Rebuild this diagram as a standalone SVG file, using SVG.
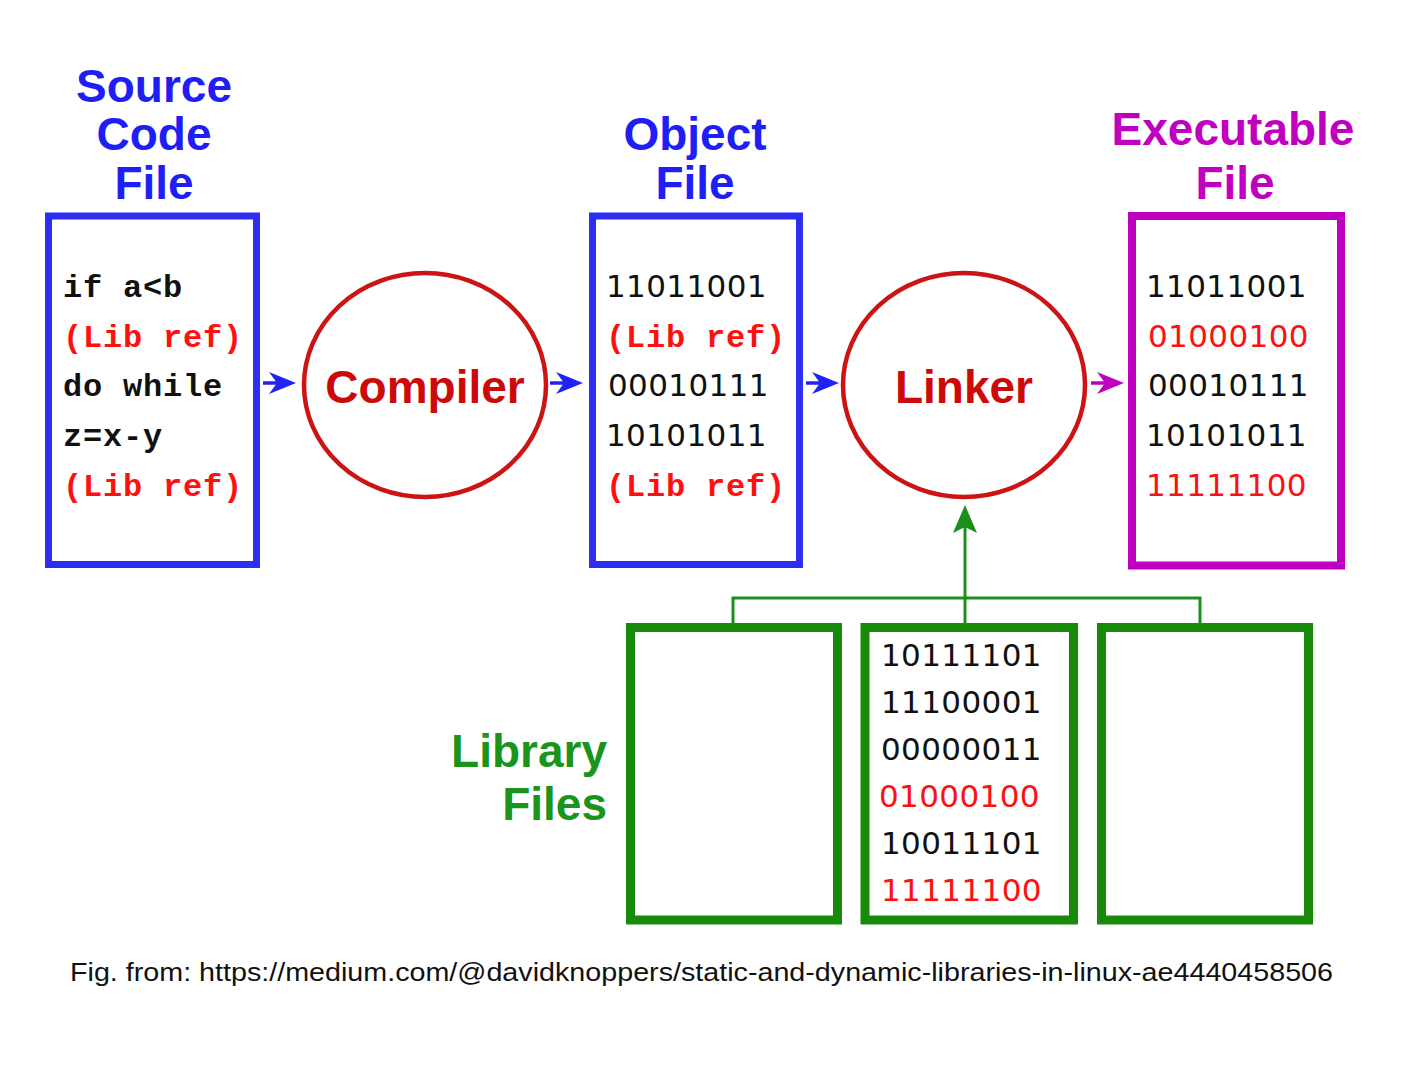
<svg xmlns="http://www.w3.org/2000/svg" xmlns:xlink="http://www.w3.org/1999/xlink" width="1408" height="1088" viewBox="0 0 1408 1088">
<style>
.title{font-family:"Liberation Sans",Arial,sans-serif;font-weight:bold;font-size:46px;text-anchor:middle}
.blue{fill:#1f1ff5}
.mag{fill:#c000c0}
.grn{fill:#1a941a}
.circ{fill:none;stroke:#cc1414;stroke-width:4.5}
.ctext{font-family:"Liberation Sans",Arial,sans-serif;font-weight:bold;font-size:46px;fill:#cc0a0a;text-anchor:middle}
.code{font-family:"Liberation Mono","Courier New",monospace;font-weight:bold;font-size:32px;letter-spacing:0.8px;fill:#111}
.bin{font-family:"DejaVu Sans",sans-serif;font-size:31px;letter-spacing:0.4px;fill:#111}
.red{fill:#ff1010}
.bbox{fill:#fff;stroke:#2e2ef2;stroke-width:7}
.mbox{fill:#fff;stroke:#c000c0;stroke-width:8}
.gbox{fill:#fff;stroke:#178a0a;stroke-width:9}
.gline{fill:none;stroke:#1a901a;stroke-width:3}
.caption{font-family:"Liberation Sans",Arial,sans-serif;font-size:26px;fill:#111}
</style>
<defs>
<g id="arr">
<line x1="-33" y1="0" x2="-18" y2="0" stroke-width="3.5"/>
<path d="M0,0 L-27,-11 L-19,0 L-27,11 Z" stroke="none"/>
</g>
</defs>
<rect width="1408" height="1088" fill="#fff"/>

<g id="source-file">
<text class="title blue" x="154" y="102">Source</text>
<text class="title blue" x="154" y="150">Code</text>
<text class="title blue" x="154" y="199">File</text>
<rect class="bbox" x="48.5" y="216" width="208" height="348.5"/>
<text class="code" x="63" y="297">if a&lt;b</text>
<text class="code red" x="63" y="347">(Lib ref)</text>
<text class="code" x="63" y="396">do while</text>
<text class="code" x="63" y="446">z=x-y</text>
<text class="code red" x="63" y="496">(Lib ref)</text>
</g>

<g id="compiler">
<ellipse class="circ" cx="425" cy="385" rx="121" ry="112"/>
<text class="ctext" x="425" y="403">Compiler</text>
</g>

<g id="object-file">
<text class="title blue" x="695" y="150">Object</text>
<text class="title blue" x="695" y="199">File</text>
<rect class="bbox" x="592.5" y="216" width="207" height="348.5"/>
<text class="bin" x="606" y="297">11011001</text>
<text class="code red" x="606" y="347">(Lib ref)</text>
<text class="bin" x="608" y="396">00010111</text>
<text class="bin" x="606" y="446">10101011</text>
<text class="code red" x="606" y="496">(Lib ref)</text>
</g>

<g id="linker">
<ellipse class="circ" cx="964" cy="385" rx="121" ry="112"/>
<text class="ctext" x="964" y="403">Linker</text>
</g>

<g id="executable-file">
<text class="title mag" x="1233" y="145">Executable</text>
<text class="title mag" x="1235" y="199">File</text>
<rect class="mbox" x="1132" y="216" width="209" height="349.5"/>
<text class="bin" x="1146" y="297">11011001</text>
<text class="bin red" x="1148" y="347">01000100</text>
<text class="bin" x="1148" y="396">00010111</text>
<text class="bin" x="1146" y="446">10101011</text>
<text class="bin red" x="1146" y="496">11111100</text>
</g>

<g id="library-files">
<text class="title grn" x="607" y="767" style="text-anchor:end">Library</text>
<text class="title grn" x="607" y="820" style="text-anchor:end">Files</text>
<rect class="gbox" x="630.5" y="627.5" width="207" height="292.5"/>
<rect class="gbox" x="865" y="627.5" width="208.5" height="292.5"/>
<rect class="gbox" x="1101.5" y="627.5" width="207" height="292.5"/>
<text class="bin" x="881" y="666">10111101</text>
<text class="bin" x="881" y="713">11100001</text>
<text class="bin" x="881" y="760">00000011</text>
<text class="bin red" x="879" y="807">01000100</text>
<text class="bin" x="881" y="854">10011101</text>
<text class="bin red" x="881" y="901">11111100</text>
</g>

<g id="connectors">
<use xlink:href="#arr" transform="translate(296,383)" fill="#2222f5" stroke="#2222f5"/>
<use xlink:href="#arr" transform="translate(583,383)" fill="#2222f5" stroke="#2222f5"/>
<use xlink:href="#arr" transform="translate(839,383)" fill="#2222f5" stroke="#2222f5"/>
<use xlink:href="#arr" transform="translate(1124,383)" fill="#c000c0" stroke="#c000c0"/>
<path class="gline" d="M733,624 V598 H1200 V624"/>
<line class="gline" x1="965" y1="624" x2="965" y2="525"/>
<path d="M965,505 L977,533 L965,527 L953,533 Z" fill="#1a901a"/>
</g>

<text class="caption" x="70" y="981" textLength="1263" lengthAdjust="spacingAndGlyphs">Fig. from: https://medium.com/@davidknoppers/static-and-dynamic-libraries-in-linux-ae4440458506</text>
</svg>
